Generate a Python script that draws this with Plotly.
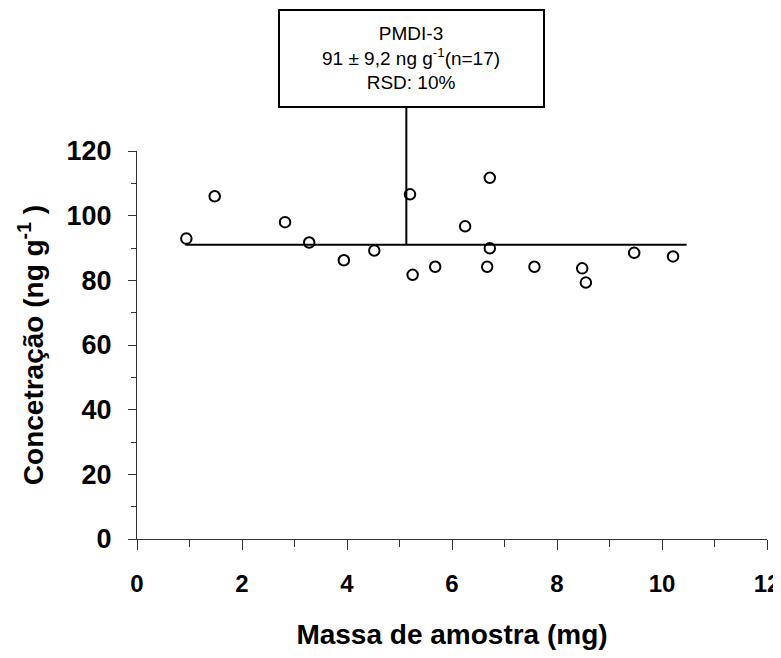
import plotly.graph_objects as go

# massa (mg) en concentratie (ng/g) per meting
massa = [0.94, 1.48, 2.82, 3.28, 3.94, 4.52, 5.20, 5.25, 5.68, 6.25,
         6.67, 6.72, 6.72, 7.57, 8.48, 8.55, 9.47, 10.21]
concentracao = [92.9, 106.0, 98.0, 91.7, 86.2, 89.2, 106.6, 81.7, 84.2, 96.7,
                84.2, 111.7, 89.9, 84.2, 83.7, 79.3, 88.5, 87.4]

# gemiddelde lijn
media = 91
media_x = [0.92, 10.47]
label_x = 5.13
label_tekst = "PMDI-3<br>91 ± 9,2 ng g<sup>-1</sup>(n=17)<br>RSD: 10%"

x_range = [0, 12]
y_range = [0, 120]

FONT = "Liberation Sans, Arial, sans-serif"

# pagina heeft 8px body-marge, daarom figuur iets kleiner (geen scrollbalk)
W, H = 773, 642
L, R, T, B = 129, 14, 143, 111
pw, ph = W - L - R, H - T - B


def px_x(p):  # pixel (figuur) -> paper
    return (p - L) / pw


def px_y(p):
    return (H - B - p) / ph


fig = go.Figure()

fig.add_trace(go.Scatter(
    x=media_x, y=[media, media],
    mode="lines",
    line=dict(color="black", width=2),
    showlegend=False,
    hoverinfo="skip"
))

fig.add_trace(go.Scatter(
    x=massa, y=concentracao,
    mode="markers",
    marker=dict(symbol="circle-open", size=10.5, color="black",
                line=dict(color="black", width=2)),
    showlegend=False,
    cliponaxis=False
))

# verbindingslijn naar het label en het kader
fig.add_shape(type="line", xref="x", yref="paper",
              x0=label_x, x1=label_x,
              y0=media / y_range[1], y1=px_y(99),
              line=dict(color="black", width=2))
fig.add_shape(type="rect", xref="paper", yref="paper",
              x0=px_x(271), x1=px_x(536),
              y0=px_y(99), y1=px_y(2),
              line=dict(color="black", width=2),
              fillcolor="white")
fig.add_annotation(xref="paper", yref="paper",
                   x=px_x(403), y=px_y(50),
                   text=label_tekst, showarrow=False,
                   xanchor="center", yanchor="middle",
                   font=dict(family=FONT, size=19, color="black"))

fig.update_xaxes(
    range=x_range, dtick=2, tick0=0,
    showline=True, linecolor="#333", linewidth=1,
    ticks="outside", ticklen=10, tickcolor="#333", tickwidth=1,
    minor=dict(dtick=1, ticks="outside", ticklen=7, tickcolor="#333"),
    showgrid=False, zeroline=False,
    tickfont=dict(family=FONT, size=24, color="black", weight="bold"),
    ticklabelstandoff=13, ticklabeloverflow="allow",
    title=dict(text="Massa de amostra (mg)", standoff=34,
               font=dict(family=FONT, size=28, color="black", weight="bold"))
)
fig.update_yaxes(
    range=y_range, dtick=20, tick0=0,
    showline=True, linecolor="#333", linewidth=1,
    ticks="outside", ticklen=8, tickcolor="#333", tickwidth=1,
    minor=dict(dtick=10, ticks="outside", ticklen=5, tickcolor="#333"),
    showgrid=False, zeroline=False,
    tickfont=dict(family=FONT, size=27, color="black", weight="bold"),
    ticklabelstandoff=11, ticklabeloverflow="allow",
    title=dict(text="Concetração (ng g<sup>-1</sup> )", standoff=14,
               font=dict(family=FONT, size=28, color="black", weight="bold"))
)

fig.update_layout(
    width=W, height=H,
    margin=dict(l=L, r=R, t=T, b=B, autoexpand=False),
    plot_bgcolor="white", paper_bgcolor="white",
)

fig.write_html("out.html")
